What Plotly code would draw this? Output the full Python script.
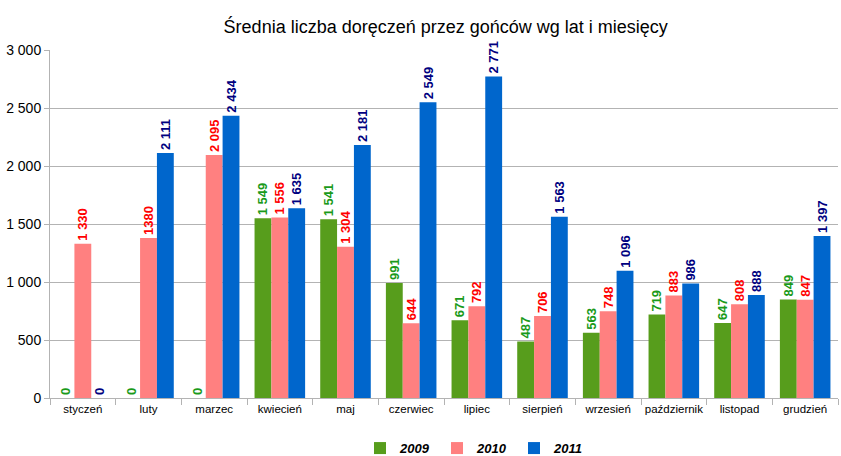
import plotly.graph_objects as go

FONT = "Liberation Sans, Arial, sans-serif"

months = ['styczeń', 'luty', 'marzec', 'kwiecień', 'maj', 'czerwiec',
          'lipiec', 'sierpień', 'wrzesień', 'październik', 'listopad', 'grudzień']
years = ['2009', '2010', '2011']

values_2009 = [0, 0, 0, 1549, 1541, 991, 671, 487, 563, 719, 647, 849]
values_2010 = [1330, 1380, 2095, 1556, 1304, 644, 792, 706, 748, 883, 808, 847]
values_2011 = [0, 2111, 2434, 1635, 2181, 2549, 2771, 1563, 1096, 986, 888, 1397]

bar_colors = ['#579d1c', '#ff8080', '#0066cc']
label_colors = ['#1a9a1a', '#ff0000', '#000080']

# the original chart printed this one label without the thousands space
label_overrides = {('2010', 'luty'): '1380'}


def fmt(v):
    return f"{v:,}".replace(',', ' ')


fig = go.Figure()
for year, vals, bc, lc in zip(years, [values_2009, values_2010, values_2011], bar_colors, label_colors):
    labels = [label_overrides.get((year, m), fmt(v)) for m, v in zip(months, vals)]
    fig.add_trace(go.Bar(
        x=months, y=vals, name=year,
        marker_color=bc, marker_line_width=0,
        text=labels, textposition='outside', textangle=-90,
        textfont=dict(family=FONT, size=13, color=lc, weight='bold'),
        constraintext='none', cliponaxis=False,
    ))

fig.update_layout(
    width=841, height=456,
    margin=dict(l=50, r=3, t=50, b=58, autoexpand=False),
    paper_bgcolor='white', plot_bgcolor='white',
    barmode='group', bargap=0.23, bargroupgap=0,
    separators=', ',
    font=dict(family=FONT, color='#000000'),
    title=dict(text='Średnia liczba doręczeń przez gońców wg lat i miesięcy',
               x=0.53, xanchor='center', y=0.941, yanchor='middle',
               font=dict(family=FONT, size=18, color='#000000')),
    legend=dict(orientation='h', x=0.54, xanchor='center', y=-0.144, yanchor='middle',
                font=dict(family=FONT, size=13, color='#000000', weight='bold', style='italic'),
                itemwidth=30, entrywidth=32, tracegroupgap=0),
    showlegend=True,
)
fig.update_xaxes(
    tickson='boundaries', ticks='outside', ticklen=6, tickcolor='#b3b3b3',
    showline=True, linecolor='#b3b3b3', linewidth=1,
    tickangle=0, automargin=False,
    tickfont=dict(family=FONT, size=11.5, color='#000000'),
    showgrid=False,
)
fig.update_yaxes(
    range=[0, 3000], dtick=500, tickformat=',d',
    showgrid=True, gridcolor='#b3b3b3', gridwidth=1,
    showline=True, linecolor='#b3b3b3', linewidth=1,
    ticks='outside', ticklen=5, tickcolor='#b3b3b3', automargin=False,
    tickfont=dict(family=FONT, size=14, color='#000000'),
    zeroline=False,
)

# drop the browser's default body margin so the chart sits at the window corner
fig.write_html("out.html", config={'displayModeBar': False},
               post_script="document.body.style.margin='0';")
